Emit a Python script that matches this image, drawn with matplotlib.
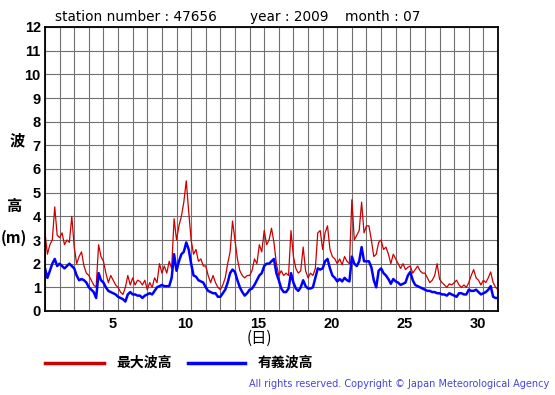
import numpy as np
import matplotlib
matplotlib.use('Agg')
import matplotlib.pyplot as plt

plt.rcParams['font.family'] = ['Liberation Sans', 'Noto Sans CJK JP', 'DejaVu Sans']

# wave heights (m), sampled every 4 hours, 1 July 00h .. 1 Aug 00h
max_wave = [
    3.3, 2.4, 2.8, 3.0, 4.4, 3.2,
    3.1, 3.3, 2.8, 3.0, 2.9, 4.0,
    2.7, 2.0, 2.3, 2.5, 1.9, 1.6,
    1.5, 1.3, 1.1, 1.0, 2.8, 2.3,
    2.1, 1.6, 1.2, 1.5, 1.3, 1.1,
    1.0, 0.8, 0.7, 1.0, 1.5, 1.1,
    1.4, 1.1, 1.3, 1.25, 1.1, 1.3,
    0.9, 1.2, 1.0, 1.4, 1.2, 2.0,
    1.6, 1.9, 1.6, 2.1, 1.8, 3.9,
    3.0, 3.6, 4.0, 4.6, 5.5, 4.2,
    3.0, 2.4, 2.6, 2.1, 2.2, 1.9,
    1.9, 1.5, 1.2, 1.5, 1.2, 1.0,
    0.9, 1.1, 1.4, 2.0, 2.5, 3.8,
    3.0, 2.2, 1.7, 1.5, 1.4, 1.5,
    1.5, 1.7, 2.2, 2.0, 2.8, 2.5,
    3.4, 2.8, 3.0, 3.5, 2.9, 2.0,
    1.5, 1.7, 1.5, 1.6, 1.5, 3.4,
    2.3, 1.8, 1.6, 1.7, 2.7, 1.7,
    1.4, 1.6, 1.5, 1.8, 3.3, 3.4,
    2.6, 3.3, 3.6, 2.6, 2.3, 2.2,
    2.0, 2.2, 1.95, 2.3, 2.1, 2.0,
    4.7, 3.0, 3.2, 3.4, 4.6, 3.3,
    3.6, 3.6, 3.0, 2.3, 2.4, 2.9,
    3.0, 2.6, 2.7, 2.4, 2.0, 2.4,
    2.2, 2.0, 1.8, 2.0, 1.75, 1.85,
    1.9, 1.6, 1.75, 1.9, 1.7, 1.6,
    1.6, 1.4, 1.2, 1.3, 1.5, 2.0,
    1.35, 1.2, 1.1, 1.0, 1.15, 1.1,
    1.2, 1.3, 1.1, 1.0, 1.1, 1.0,
    1.2, 1.5, 1.75, 1.4, 1.3, 1.1,
    1.3, 1.2, 1.4, 1.65, 1.2, 1.0, 0.9,
]
sig_wave = [
    1.8, 1.4, 1.7, 2.0, 2.2, 1.9,
    2.0, 1.9, 1.8, 1.9, 2.0, 1.9,
    1.8, 1.5, 1.3, 1.35, 1.3, 1.2,
    1.0, 0.9, 0.8, 0.55, 1.6, 1.3,
    1.2, 1.0, 0.85, 0.8, 0.75, 0.7,
    0.6, 0.55, 0.5, 0.4, 0.7, 0.8,
    0.7, 0.7, 0.65, 0.65, 0.55, 0.65,
    0.7, 0.75, 0.7, 0.85, 1.0, 1.05,
    1.1, 1.05, 1.05, 1.05, 1.4, 2.4,
    1.7, 2.1, 2.4, 2.5, 2.9, 2.6,
    2.0, 1.5, 1.45, 1.3, 1.25, 1.2,
    1.0, 0.85, 0.8, 0.75, 0.75, 0.6,
    0.6, 0.75, 0.9, 1.2, 1.6, 1.75,
    1.65, 1.3, 1.0, 0.8, 0.65, 0.75,
    0.9, 0.95, 1.1, 1.3, 1.5, 1.6,
    1.9, 2.0, 2.0, 2.1, 2.2, 1.6,
    1.3, 0.95, 0.8, 0.8, 0.95, 1.6,
    1.2, 0.95, 0.85, 1.0, 1.3, 1.05,
    0.95, 0.95, 1.0, 1.4, 1.8, 1.75,
    1.8, 2.1, 2.2, 1.8, 1.5, 1.4,
    1.25, 1.35, 1.25, 1.4, 1.3, 1.25,
    2.3, 2.0, 1.9, 2.1, 2.7, 2.1,
    2.1, 2.1, 1.85, 1.3, 1.0, 1.7,
    1.8, 1.6, 1.5, 1.35, 1.15, 1.35,
    1.25, 1.2, 1.1, 1.15, 1.2, 1.5,
    1.65, 1.3, 1.1, 1.05, 1.0, 0.95,
    0.9, 0.85, 0.85, 0.8, 0.8, 0.75,
    0.75, 0.7, 0.7, 0.65, 0.75, 0.7,
    0.65, 0.6, 0.75, 0.75, 0.7, 0.7,
    0.9, 0.85, 0.85, 0.9, 0.8, 0.7,
    0.75, 0.8, 0.9, 1.05, 0.6, 0.55, 0.55,
]
step_hours = 4
day_labels = [5, 10, 15, 20, 25, 30]
height_ticks = list(range(0, 13))

days = 1 + np.arange(len(max_wave)) * step_hours / 24.0

fig = plt.figure(figsize=(5.55, 3.95), dpi=100)
ax = fig.add_axes([45 / 555, 84 / 395, 453 / 555, 284 / 395])

ax.plot(days, max_wave, color='#cc0000', lw=0.9)
ax.plot(days, sig_wave, color='#0000ff', lw=1.8)

ax.set_xlim(1, 32)
ax.set_ylim(0, 12)
ax.set_xticks(np.arange(1, 33), minor=True)
ax.set_xticks([d + 0.6 for d in day_labels])
ax.set_xticklabels([str(d) for d in day_labels])
ax.set_yticks(height_ticks)
ax.set_yticklabels([str(v) for v in height_ticks])
ax.tick_params(which='both', length=0)
ax.tick_params(axis='y', pad=3)
ax.tick_params(axis='x', pad=4)
for lab in ax.get_xticklabels() + ax.get_yticklabels():
    lab.set_fontsize(10.5)
    lab.set_fontweight('bold')
ax.grid(which='minor', axis='x', color='#707070', lw=0.8)
ax.grid(which='major', axis='y', color='#707070', lw=0.8)
ax.set_axisbelow(True)
for s in ax.spines.values():
    s.set_linewidth(1.3)

# header
hy = 1 - 17 / 395
fig.text(55 / 555, hy, 'station number : 47656', fontsize=9.8, va='center', family='DejaVu Sans')
fig.text(250 / 555, hy, 'year : 2009', fontsize=9.8, va='center', family='DejaVu Sans')
fig.text(345 / 555, hy, 'month : 07', fontsize=9.8, va='center', family='DejaVu Sans')

# y label
cjk = ['Noto Sans CJK JP', 'DejaVu Sans']
fig.text(17 / 555, 1 - 140 / 395, '波', fontsize=11, fontweight='bold', ha='center',
         va='center', family=cjk)
fig.text(14 / 555, 1 - 206 / 395, '高', fontsize=11, fontweight='bold', ha='center',
         va='center', family=cjk)
fig.text(14 / 555, 1 - 238 / 395, '(m)', fontsize=11, fontweight='bold', ha='center',
         va='center', family=cjk)
fig.text(259 / 555, 1 - 338 / 395, '(日)', fontsize=11, ha='center', va='center', family=cjk)

# legend
fig.add_artist(plt.Line2D([45 / 555, 104 / 555], [1 - 363 / 395] * 2, color='#cc0000', lw=2.5))
fig.text(116 / 555, 1 - 363 / 395, '最大波高', fontsize=10, fontweight='bold', va='center',
         family=cjk)
fig.add_artist(plt.Line2D([188 / 555, 245 / 555], [1 - 363 / 395] * 2, color='#0000ff', lw=2.5))
fig.text(258 / 555, 1 - 363 / 395, '有義波高', fontsize=10, fontweight='bold', va='center',
         family=cjk)

fig.text(549 / 555, 1 - 384 / 395,
         'All rights reserved. Copyright © Japan Meteorological Agency',
         fontsize=7, color='#4444dd', ha='right', va='center', family='DejaVu Sans')

fig.savefig('out.png', dpi=100)
